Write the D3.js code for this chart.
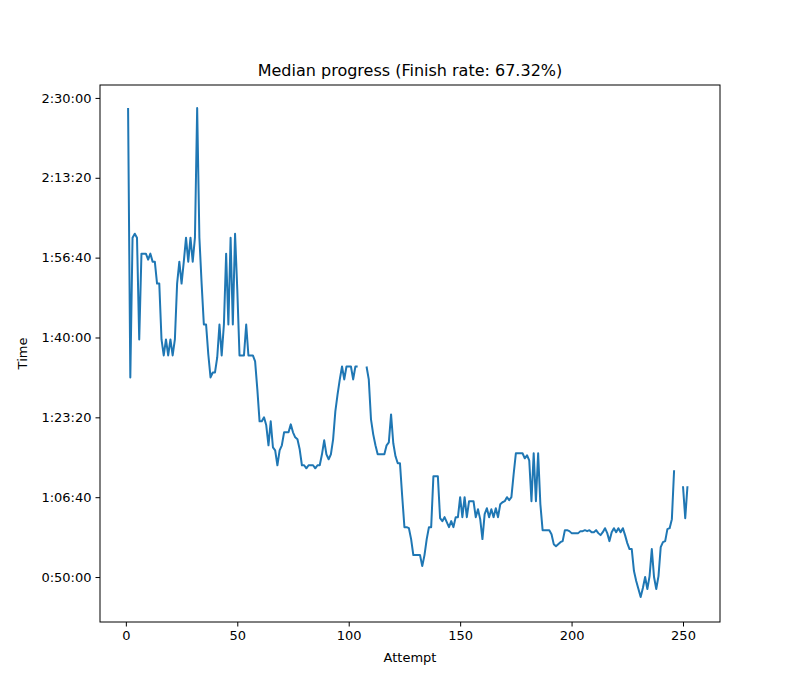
<!DOCTYPE html>
<html>
<head>
<meta charset="utf-8">
<script src="https://cdn.jsdelivr.net/npm/d3@7"></script>
<style>
  body { margin: 0; background: #fff; }
  text { font-family: "DejaVu Sans", sans-serif; }
</style>
</head>
<body>
<div id="chart"></div>
<script>
// median time in seconds per attempt (null = no value)
const medianSeconds = [
  8875, 5500, 7250, 7300, 7250, 5975, 7050, 7050, 7050, 6975,
  7050, 6950, 6950, 6675, 6675, 5975, 5775, 5975, 5775, 5975,
  5775, 5975, 6675, 6950, 6675, 6950, 7250, 6950, 7250, 6950,
  7250, 8875, 7250, 6675, 6163, 6163, 5787, 5500, 5562, 5562,
  5750, 6163, 5775, 6163, 7050, 6163, 7250, 6163, 7300, 6600,
  5775, 5775, 5775, 6163, 5775, 5775, 5775, 5700, 5350, 4950,
  4950, 5000, 4900, 4650, 4950, 4625, 4587, 4400, 4587, 4650,
  4812, 4812, 4812, 4912, 4812, 4750, 4725, 4600, 4400, 4400,
  4362, 4400, 4400, 4400, 4362, 4400, 4400, 4537, 4712, 4537,
  4475, 4537, 4725, 5075, 5287, 5475, 5637, 5475, 5637, 5637,
  5637, 5475, 5637, 5637, null, null, null, 5637, 5475, 4975,
  4787, 4650, 4537, 4537, 4537, 4537, 4650, 4687, 5037, 4675,
  4512, 4425, 4425, 4012, 3625, 3625, 3612, 3475, 3275, 3275,
  3275, 3275, 3137, 3275, 3475, 3625, 3625, 4262, 4262, 4262,
  3737, 3700, 3750, 3687, 3625, 3700, 3625, 3750, 3750, 4000,
  3750, 4000, 3750, 3950, 3950, 3950, 3750, 3850, 3725, 3475,
  3787, 3862, 3750, 3850, 3750, 3862, 3750, 3912, 3937, 3950,
  4000, 3962, 4000, 4287, 4550, 4550, 4550, 4550, 4487, 4525,
  4462, 3950, 4550, 3950, 4550, 3912, 3587, 3587, 3587, 3587,
  3537, 3412, 3387, 3412, 3437, 3450, 3587, 3587, 3575, 3550,
  3550, 3550, 3550, 3575, 3575, 3587, 3575, 3587, 3562, 3562,
  3587, 3550, 3525, 3562, 3612, 3550, 3450, 3562, 3612, 3562,
  3612, 3562, 3612, 3525, 3425, 3350, 3350, 3075, 2950, 2850,
  2750, 2862, 3000, 2850, 3012, 3350, 3000, 2850, 3012, 3375,
  3437, 3450, 3600, 3612, 3725, 4337, null, null, null, 4137,
  3737, 4137
];
const attempts = medianSeconds.map((_, i) => i + 1);
const xTicks = [0, 50, 100, 150, 200, 250];
const yTicks = [3000, 4000, 5000, 6000, 7000, 8000, 9000];
const title = "Median progress (Finish rate: 67.32%)";

const margin = { top: 85, right: 80, bottom: 78, left: 100 };
const width = 800 - margin.left - margin.right;
const height = 700 - margin.top - margin.bottom;

const svg = d3.select("#chart").append("svg")
  .attr("width", 800).attr("height", 700);
const chart = svg.append("g")
  .attr("transform", `translate(${margin.left},${margin.top})`);

const x = d3.scaleLinear().domain([-11.6, 266.6]).range([0, width]);
const y = d3.scaleLinear().domain([2437, 9162]).range([height, 0]);

const fmt = s => {
  const h = Math.floor(s / 3600), m = Math.floor((s % 3600) / 60), sec = s % 60;
  return `${h}:${String(m).padStart(2, "0")}:${String(sec).padStart(2, "0")}`;
};

const line = d3.line()
  .defined(d => d != null)
  .x((d, i) => x(attempts[i]))
  .y(d => y(d));

chart.append("path")
  .datum(medianSeconds)
  .attr("fill", "none")
  .attr("stroke", "#1f77b4")
  .attr("stroke-width", 2)
  .attr("stroke-linejoin", "round")
  .attr("d", line);

const xAxis = chart.append("g")
  .attr("transform", `translate(0,${height})`)
  .call(d3.axisBottom(x).tickValues(xTicks).tickSize(4.5).tickPadding(4));
const yAxis = chart.append("g")
  .call(d3.axisLeft(y).tickValues(yTicks).tickFormat(fmt).tickSize(4.5).tickPadding(4));
[xAxis, yAxis].forEach(a => {
  a.select(".domain").remove();
  a.selectAll("text").style("font-size", "13px").attr("fill", "#000");
  a.selectAll("line").attr("stroke", "#000");
});

chart.append("rect")
  .attr("width", width).attr("height", height)
  .attr("fill", "none").attr("stroke", "#000").attr("stroke-width", 1);

svg.append("text")
  .attr("x", margin.left + width / 2).attr("y", 76)
  .attr("text-anchor", "middle").style("font-size", "16px")
  .text(title);
svg.append("text")
  .attr("x", margin.left + width / 2).attr("y", 662)
  .attr("text-anchor", "middle").style("font-size", "13px")
  .text("Attempt");
svg.append("text")
  .attr("transform", `translate(27,${margin.top + height / 2}) rotate(-90)`)
  .attr("text-anchor", "middle").style("font-size", "13px")
  .text("Time");
</script>
</body>
</html>
